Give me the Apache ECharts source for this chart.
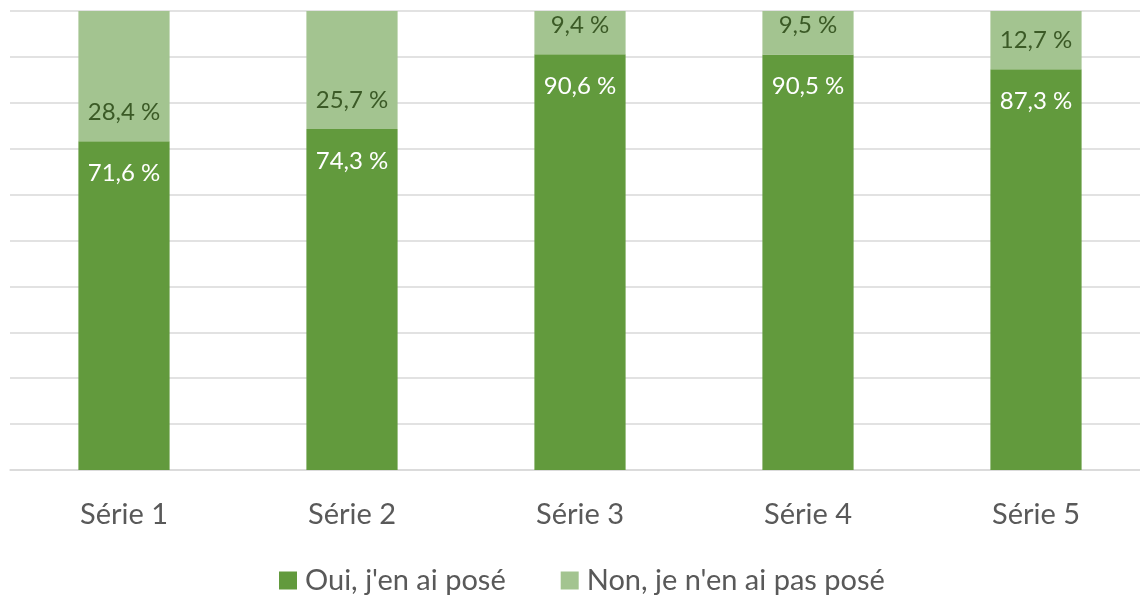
<!DOCTYPE html>
<html><head><meta charset="utf-8">
<script src="https://cdn.jsdelivr.net/npm/echarts@6/dist/echarts.min.js"></script>
<style>html,body{margin:0;padding:0;background:#fff;overflow:hidden;width:1140px;height:598px}#c{width:1160px;height:598px}</style>
</head><body><div id="c"></div>
<script>
const categories = ['Série 1','Série 2','Série 3','Série 4','Série 5'];
const oui = [71.6, 74.3, 90.6, 90.5, 87.3];
const non = [28.4, 25.7, 9.4, 9.5, 12.7];
const seriesNames = ["Oui, j'en ai posé", "Non, je n'en ai pas posé"];
const FONT = 'Lato';
const fmt = p => p.value.toFixed(1).replace('.', ',') + ' %';
const chart = echarts.init(document.getElementById('c'), null, {renderer:'canvas'});
chart.setOption({
  animation:false,
  grid:{left:10, top:11, right:10, height:459, containLabel:false},
  legend:{top:561, left:274, itemWidth:18, itemHeight:18, itemGap:55,
    icon:'rect', textStyle:{fontFamily:FONT, fontSize:29, color:'#595959', padding:[0,0,0,3]}, data:seriesNames},
  xAxis:{type:'category', data:categories,
    axisLine:{show:true, lineStyle:{color:'#d9d9d9', width:1.5}}, axisTick:{show:false},
    axisLabel:{fontFamily:FONT, fontSize:29, color:'#595959', margin:30}},
  yAxis:{type:'value', min:0, max:100, interval:10,
    axisLine:{show:false}, axisTick:{show:false}, axisLabel:{show:false},
    splitLine:{lineStyle:{color:'#d9d9d9', width:1.5}}},
  series:[
    {name:seriesNames[0], type:'bar', stack:'a', data:oui, barWidth:'40%',
      itemStyle:{color:'#629a3d'},
      label:{show:true, position:'insideTop', distance:20, formatter:fmt,
        fontFamily:FONT, fontSize:24, color:'#ffffff'}},
    {name:seriesNames[1], type:'bar', stack:'a', data:non, barWidth:'40%',
      itemStyle:{color:'#a3c490'},
      label:{show:true, position:'insideBottom', distance:17, formatter:fmt,
        fontFamily:FONT, fontSize:24, color:'#3b5a26'}}
  ]
});
</script></body></html>
